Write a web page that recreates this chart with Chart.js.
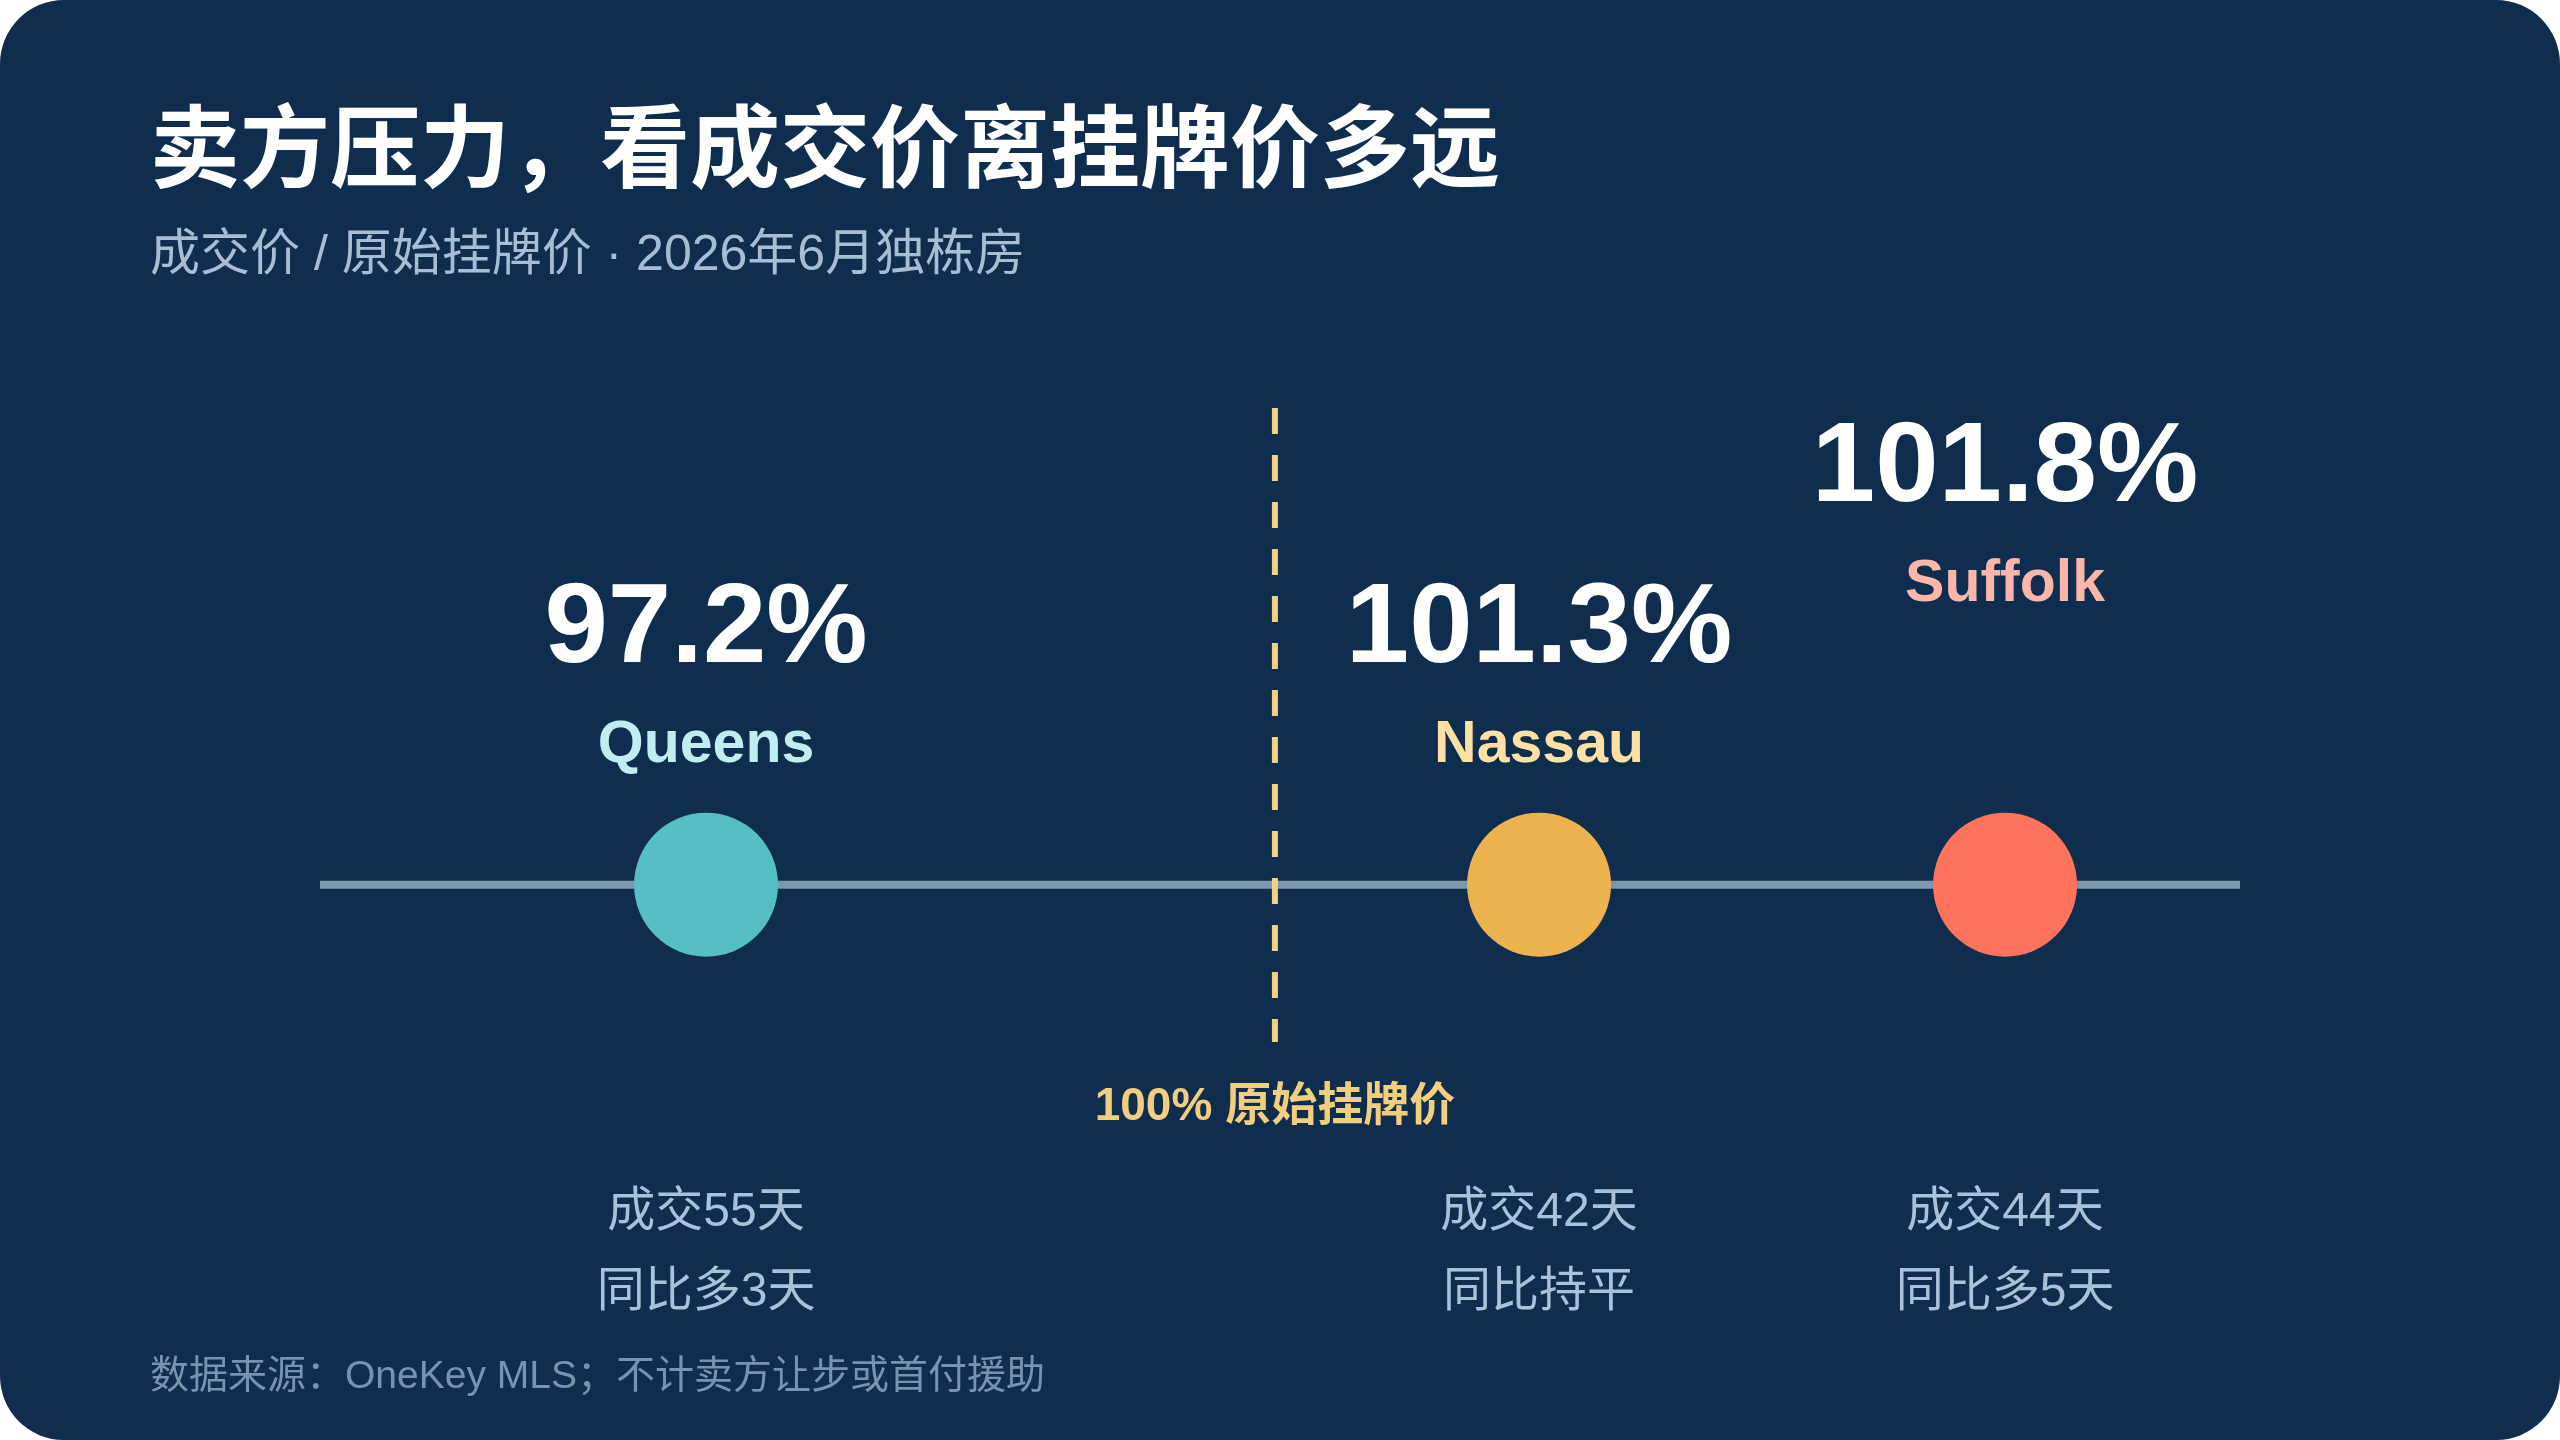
<!DOCTYPE html>
<html>
<head>
<meta charset="utf-8">
<script src="https://cdn.jsdelivr.net/npm/chart.js@4.4.1/dist/chart.umd.min.js"></script>
<style>
    html, body { margin: 0; padding: 0; background: #ffffff; }
    #card { position: relative; width: 2560px; height: 1440px; background: #0f2e4f; border-radius: 64px; overflow: hidden; }
    #chart { position: absolute; left: 0; top: 0; }
</style>
</head>
<body>
<div id="card"><canvas id="chart" width="2560" height="1440"></canvas></div>
<script>
const regions = ["Queens", "Nassau", "Suffolk"];
const saleToList = [97.2, 101.3, 101.8];
const daysOnMarket = [55, 42, 44];
const daysVsLastYear = [3, 0, 5];
const refValue = 100;
const refLabel = "100% 原始挂牌价";
const axisRange = [95.3, 104.75];

const titleText = "卖方压力，看成交价离挂牌价多远";
const subtitleText = "成交价 / 原始挂牌价 · 2026年6月独栋房";
const footerText = "数据来源：OneKey MLS；不计卖方让步或首付援助";

const dotColors = ["#56bec6", "#ecb24e", "#ff735d"];
const nameColors = ["#bfeef0", "#fde0a3", "#f9b6a9"];

const SANS = '"Liberation Sans", "Noto Sans CJK SC", sans-serif';
const CJK = '"Noto Sans CJK SC", sans-serif';

// push crowded dots apart and lift their labels one row
let lifts = [];
const dodgePlugin = {
    id: "dodge",
    afterDatasetsUpdate(chart) {
        const pts = chart.getDatasetMeta(0).data;
        const order = pts.map((p, i) => i).sort((a, b) => pts[a].x - pts[b].x);
        const minGap = 466;
        lifts = pts.map(() => 0);
        order.forEach((idx, k) => {
            if (k === 0) return;
            const prev = pts[order[k - 1]];
            if (pts[idx].x - prev.x < minGap) {
                pts[idx].x = prev.x + minGap;
                lifts[idx] = 161;
            }
        });
    }
};

const textPlugin = {
    id: "texts",
    afterDraw(chart) {
        const ctx = chart.ctx;
        ctx.save();
        ctx.textBaseline = "alphabetic";

        ctx.textAlign = "left";
        ctx.fillStyle = "#ffffff";
        ctx.font = `700 90px ${CJK}`;
        ctx.fillText(titleText, 150, 180);
        ctx.fillStyle = "#a7bdd4";
        ctx.font = `400 50px ${SANS}`;
        ctx.fillText(subtitleText, 150, 270);
        ctx.fillStyle = "#7893ad";
        ctx.font = `400 39px ${SANS}`;
        ctx.fillText(footerText, 150, 1388);

        ctx.textAlign = "center";
        const pts = chart.getDatasetMeta(0).data;
        pts.forEach((p, i) => {
            const lift = lifts[i] || 0;
            ctx.fillStyle = "#ffffff";
            ctx.font = `700 114px ${SANS}`;
            ctx.fillText(saleToList[i].toFixed(1) + "%", p.x, p.y - 223 - lift);
            ctx.fillStyle = nameColors[i];
            ctx.font = `700 59px ${SANS}`;
            ctx.fillText(regions[i], p.x, p.y - 123 - lift);

            ctx.fillStyle = "#a9c1d9";
            ctx.font = `400 48px ${SANS}`;
            ctx.fillText("成交" + daysOnMarket[i] + "天", p.x, p.y + 341);
            const d = daysVsLastYear[i];
            ctx.fillText(d === 0 ? "同比持平" : "同比多" + d + "天", p.x, p.y + 421);
        });

        const y0 = chart.scales.y.getPixelForValue(0);
        ctx.fillStyle = "#f2cf7e";
        ctx.font = `700 46px ${SANS}`;
        ctx.fillText(refLabel, chart.scales.x.getPixelForValue(refValue), y0 + 235);
        ctx.restore();
    }
};

function drawChart() {
    const ctx = document.getElementById("chart").getContext("2d");
    new Chart(ctx, {
        type: "scatter",
        data: {
            datasets: [
                {
                    label: "成交价/挂牌价",
                    data: saleToList.map(v => ({ x: v, y: 0 })),
                    pointRadius: 72,
                    pointHoverRadius: 72,
                    pointBackgroundColor: dotColors,
                    backgroundColor: dotColors,
                    pointBorderWidth: 0,
                    borderWidth: 0
                },
                {
                    type: "line",
                    label: "ref",
                    data: [{ x: refValue, y: 1 }, { x: refValue, y: -0.33 }],
                    borderColor: "#f1d081",
                    borderWidth: 6,
                    borderDash: [26, 21],
                    pointRadius: 0,
                    fill: false
                },
                {
                    type: "line",
                    label: "axis",
                    data: [{ x: axisRange[0], y: 0 }, { x: axisRange[1], y: 0 }],
                    borderColor: "#7e96ab",
                    borderWidth: 8,
                    borderCapStyle: "butt",
                    pointRadius: 0,
                    fill: false
                }
            ]
        },
        options: {
            responsive: false,
            animation: false,
            devicePixelRatio: 1,
            events: [],
            layout: { padding: { left: 320, right: 320, top: 408, bottom: 398 } },
            scales: {
                x: { type: "linear", min: axisRange[0], max: axisRange[1], display: false },
                y: { type: "linear", min: -0.33, max: 1, display: false }
            },
            plugins: {
                legend: { display: false },
                tooltip: { enabled: false }
            }
        },
        plugins: [dodgePlugin, textPlugin]
    });
}

Promise.all([
    document.fonts.load(`700 90px "Noto Sans CJK SC"`),
    document.fonts.load(`400 50px "Noto Sans CJK SC"`),
    document.fonts.load(`700 114px "Liberation Sans"`),
    document.fonts.load(`400 48px "Liberation Sans"`)
]).then(drawChart, drawChart);
</script>
</body>
</html>
